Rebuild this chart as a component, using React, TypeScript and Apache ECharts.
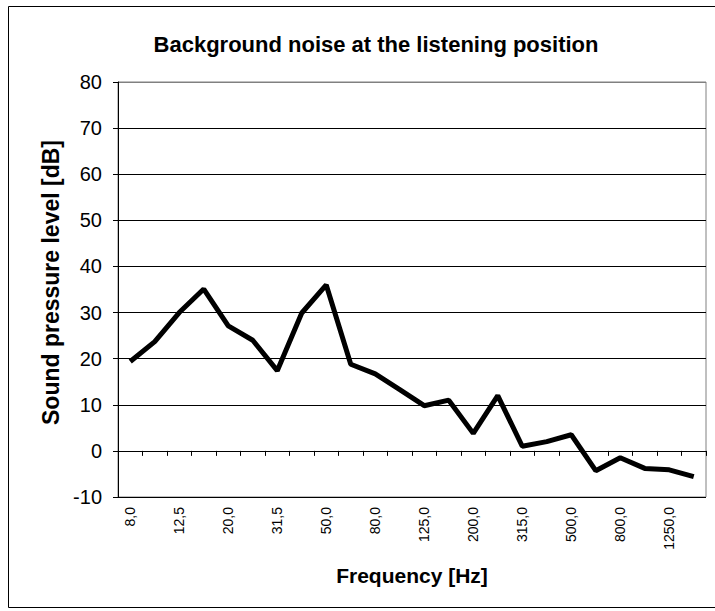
import React, { useEffect, useRef } from "react";
import * as echarts from "echarts";

const frequencies = [
  "8,0", "10,0", "12,5", "16,0", "20,0", "25,0", "31,5", "40,0", "50,0", "63,0", "80,0", "100,0",
  "125,0", "160,0", "200,0", "250,0", "315,0", "400,0", "500,0", "630,0", "800,0", "1000,0", "1250,0", "1600,0",
];
const levels = [
  19.4, 23.7, 30, 35.1, 27.1, 24, 17.4, 29.9, 36, 18.8, 16.7, 13.3,
  9.8, 11, 3.8, 12, 1, 2, 3.5, -4.3, -1.5, -3.8, -4.1, -5.6,
];
const yTicks = { min: -10, max: 80, interval: 10 };

const FONT = "Liberation Sans, Arial, sans-serif";

export default function App() {
  const ref = useRef<HTMLDivElement>(null);
  useEffect(() => {
    if (!ref.current) return;
    const chart = echarts.init(ref.current, null, { renderer: "svg" });
    const gridColors = Array.from({ length: 10 }, (_, i) => (i === 9 ? "#808080" : "#000000"));
    chart.setOption({
      animation: false,
      backgroundColor: "#ffffff",
      title: {
        text: "Background noise at the listening position",
        left: 371,
        top: 28,
        textAlign: "center",
        textStyle: { fontFamily: FONT, fontSize: 22, fontWeight: "bold", color: "#000" },
      },
      graphic: [
        {
          type: "rect",
          shape: { x: 8.5, y: 6.5, width: 720, height: 601 },
          style: { fill: "none", stroke: "#000", lineWidth: 1 },
          silent: true,
        },
      ],
      grid: {
        left: 118,
        right: 9,
        top: 82,
        bottom: 114,
        show: true,
        borderColor: "#808080",
        borderWidth: 1,
        backgroundColor: "#ffffff",
      },
      xAxis: {
        type: "category",
        data: frequencies,
        boundaryGap: true,
        name: "Frequency [Hz]",
        nameLocation: "middle",
        nameGap: 68,
        nameTextStyle: { fontFamily: FONT, fontSize: 21, fontWeight: "bold", color: "#000" },
        axisLine: { lineStyle: { color: "#000", width: 1 } },
        axisTick: { show: true, length: 5, alignWithLabel: false, interval: 0, lineStyle: { color: "#000" } },
        axisLabel: {
          interval: 1,
          rotate: 90,
          margin: 10,
          fontFamily: FONT,
          fontSize: 14,
          color: "#000",
        },
        splitLine: { show: false },
      },
      yAxis: {
        type: "value",
        min: yTicks.min,
        max: yTicks.max,
        interval: yTicks.interval,
        name: "Sound pressure level [dB]",
        nameLocation: "middle",
        nameGap: 53,
        nameTextStyle: {
          fontFamily: FONT,
          fontSize: 23,
          fontWeight: "bold",
          color: "#000",
          padding: [0, 0, 0, 14],
        },
        axisLine: { show: true, lineStyle: { color: "#000", width: 1 } },
        axisTick: { show: true, length: 5, lineStyle: { color: "#000" } },
        axisLabel: { margin: 16, fontFamily: FONT, fontSize: 20, color: "#000" },
        splitLine: { show: true, lineStyle: { color: gridColors, width: 1 } },
      },
      series: [
        {
          type: "line",
          data: levels,
          symbol: "none",
          lineStyle: { color: "#000", width: 5 },
          itemStyle: { color: "#000" },
        },
      ],
    });
    return () => chart.dispose();
  }, []);
  return (
    <div style={{ position: "absolute", left: 0, top: 0, width: 715, height: 611 }}>
      <div ref={ref} style={{ width: 715, height: 611 }} />
    </div>
  );
}
